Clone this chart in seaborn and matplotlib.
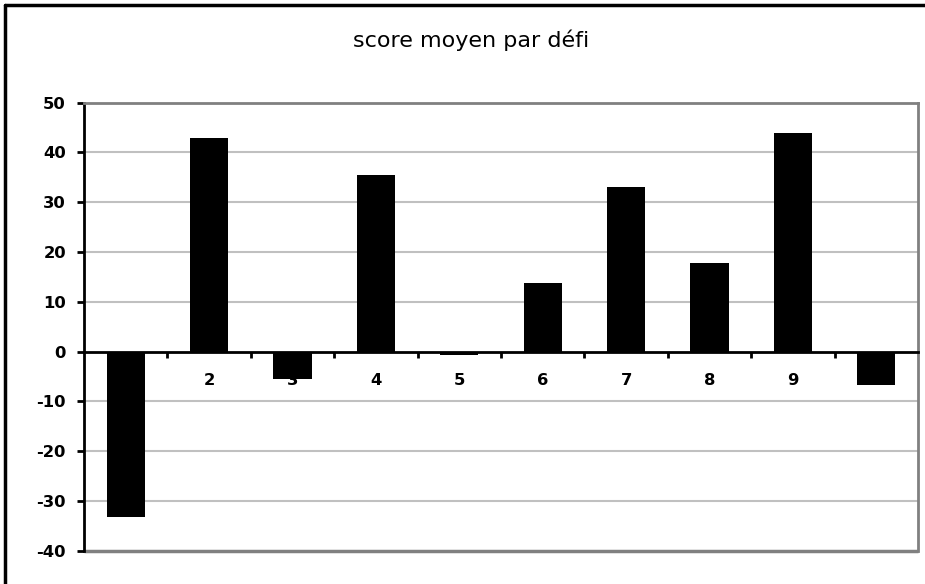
import matplotlib
matplotlib.use("Agg")
import matplotlib.pyplot as plt
from matplotlib.patches import Rectangle
from matplotlib.lines import Line2D
import seaborn as sns
import pandas as pd

# Average score for each challenge
defis = ["1", "2", "3", "4", "5", "6", "7", "8", "9", "10"]
scores = [-33.3, 43.0, -5.5, 35.5, -0.7, 13.8, 33.1, 17.8, 43.9, -6.8]
y_ticks = [-40, -30, -20, -10, 0, 10, 20, 30, 40, 50]
title = "score moyen par défi"

df = pd.DataFrame({"defi": defis, "score": scores})

sns.set_theme(style="white")
plt.rcParams["font.family"] = ["DejaVu Sans"]

fig = plt.figure(figsize=(9.25, 5.84), dpi=100)
ax = fig.add_axes([84 / 925, 1 - 550.7 / 584, (918 - 84) / 925, (550.7 - 102.7) / 584])

sns.barplot(data=df, x="defi", y="score", color="black", width=0.46,
            saturation=1, ax=ax, zorder=3, edgecolor="black", linewidth=0)

ax.set_ylim(-40, 50)
ax.set_xlim(-0.5, len(defis) - 0.5)
ax.set_yticks(y_ticks)
ax.set_yticklabels([str(v) for v in y_ticks], fontsize=11.8, fontweight="bold", color="black")
ax.tick_params(axis="y", which="major", direction="out", length=5, width=2,
               color="black", left=True, pad=8)
ax.set_xlabel("")
ax.set_ylabel("")

# light horizontal gridlines
for v in y_ticks[1:-1]:
    if v != 0:
        ax.axhline(v, color="#c0c0c0", linewidth=1.5, zorder=1)

# category axis sits on the zero line
ax.spines["bottom"].set_position(("data", 0))
ax.spines["bottom"].set_color("black")
ax.spines["bottom"].set_linewidth(2)
ax.spines["bottom"].set_zorder(4)
ax.set_xticks(range(len(defis)))
ax.set_xticklabels([])
ax.set_xticks([i + 0.5 for i in range(len(defis) - 1)], minor=True)
ax.tick_params(axis="x", which="major", length=0)
ax.tick_params(axis="x", which="minor", direction="out", length=4, width=2,
               color="black", bottom=True)
for i, lab in enumerate(defis):
    ax.text(i, -5.8, lab, ha="center", va="center", fontsize=11.8,
            fontweight="bold", color="black", zorder=2)

# plot-area frame
ax.spines["left"].set_color("black")
ax.spines["left"].set_linewidth(2)
for s in ("top", "right"):
    ax.spines[s].set_color("#808080")
    ax.spines[s].set_linewidth(2)
ax.add_patch(Rectangle((0, 0), 1, 0, transform=ax.transAxes, fill=False,
                       edgecolor="#808080", linewidth=2.5, clip_on=False, zorder=2))
ax.set_facecolor("white")

fig.text(471 / 925, 1 - 40 / 584, title, ha="center", va="center", fontsize=16,
         color="black")

# chart border
fig.add_artist(Line2D([5 / 925, 5 / 925], [0, 1 - 5 / 584], transform=fig.transFigure,
                      color="black", linewidth=2.5))
fig.add_artist(Line2D([5 / 925, 1], [1 - 5 / 584, 1 - 5 / 584], transform=fig.transFigure,
                      color="black", linewidth=2.5))

fig.savefig("out.png", dpi=100, facecolor="white")
